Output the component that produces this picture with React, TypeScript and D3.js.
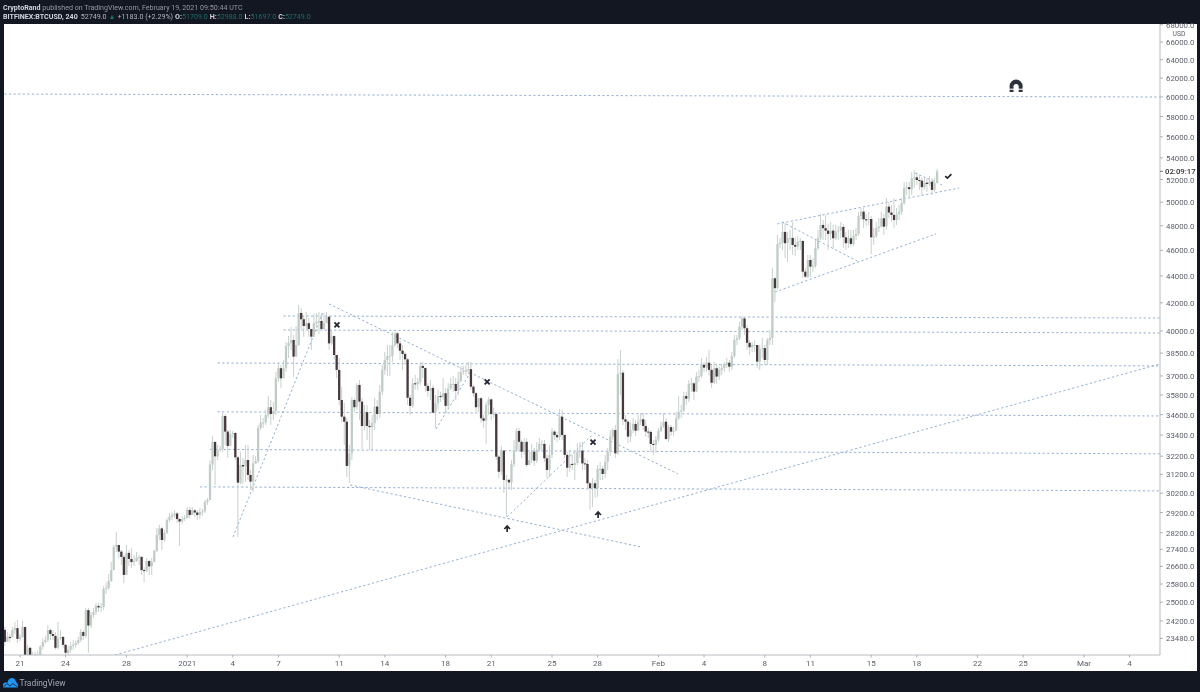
import React from "react";
import * as d3 from "d3";

// 4h candles, starting 20 Dec 2020 00:00; one row = one day (6 bars)
const firstOpen = 23830;
const closes = [
23340,23540,23520,23820,23900,23460,
23540,23950,22620,23100,22780,22820,
22780,22820,23140,23330,23410,23820,
23660,23580,23100,23480,23540,23220,
22900,23020,23180,23220,23295,23410,
23740,23580,24660,24010,24450,24580,
24840,24775,24800,25580,25625,25935,
26430,27510,27605,27290,27040,26210,
27230,26945,26800,26850,27015,27040,
26430,26400,26850,26600,26800,27325,
28090,28410,27844,28190,28826,28980,
29080,29155,28875,28750,28875,28925,
29335,29080,29310,29205,29080,29230,
29260,29740,29843,31740,33000,32190,
32550,32600,34520,33600,32775,33460,
33520,32135,30755,31710,31630,31985,
31170,30810,31800,31930,33810,34120,
34140,34580,35050,34640,34820,36850,
37500,36850,37520,38970,39175,39380,
38260,39044,41270,40820,40350,40540,
40140,39610,40540,40630,40700,40140,
40540,41000,39150,39650,38370,37390,
35490,34480,34180,31660,32360,35490,
35050,36430,35390,33930,34750,33930,
33860,34110,35090,34640,36010,37390,
38040,38300,38300,39040,39840,39150,
38660,38440,38080,35630,35130,36530,
36490,36620,37650,37520,36370,36050,
36240,34720,35290,35740,35670,35910,
35130,36200,36490,36490,36050,36640,
37260,37330,37390,37440,36320,35910,
35050,35600,34380,34240,35190,35530,
34640,34640,32170,31340,32510,30900,
30910,30770,31750,32550,33640,33010,
32450,33010,31710,31985,32450,31950,
32550,32890,32890,32080,31440,32270,
33600,33400,33270,34480,33400,32270,
31560,31770,31710,31820,32450,32510,
31800,31770,30720,30460,30720,30460,
31500,31500,31220,31890,32450,33310,
33690,32360,37130,37210,34320,34180,
33310,33690,34050,33650,34180,34320,
33930,33600,33580,32890,32830,33150,
33640,33890,34180,33170,33860,33600,
33640,34380,34780,34840,35740,35570,
36490,36530,36010,36960,37000,37720,
37540,37860,37390,36570,37500,36960,
37390,37520,37720,37860,37600,38300,
39380,39490,40300,40880,40190,39190,
38890,39040,39040,37930,38780,38830,
38040,39380,39520,43820,43080,46510,
46610,47490,46570,46970,47000,46430,
46295,46690,46750,44330,43950,45235,
44720,44770,46170,46970,48070,47800,
47600,47330,47600,46970,47520,47600,
47905,47050,46570,46970,46510,47160,
47330,48830,49190,48540,48482,48565,
47050,47160,47800,47930,48625,47930,
49620,49110,48910,48482,48970,49190,
49935,51230,51320,51140,52110,52200,
51960,51900,51320,51720,51610,51810,
51080,51709,52749,
];
const highs = [
23950,23740,23660,23950,24160,24240,
23660,24200,23950,23220,23140,22940,
22940,22980,23220,23490,23580,24030,
23900,23820,23740,24160,23820,23580,
23260,23180,23330,23410,23410,23540,
23860,23820,24750,24750,24580,24750,
24970,24970,24970,25710,25850,26260,
26800,27605,28240,27605,27370,27130,
27605,27370,27465,27130,27275,27130,
27085,26570,26990,26900,26990,27370,
28435,28585,28485,28340,28925,29180,
29230,29330,29230,28925,29030,29080,
29490,29490,29490,29385,29335,29440,
29385,29843,29950,31985,33350,33060,
32830,32775,34760,34640,33690,33690,
33630,33570,32210,32440,32100,32830,
32830,31440,32270,32210,33990,34580,
34400,34890,35740,35490,35370,37260,
37910,37715,38040,39245,39655,40280,
39730,40350,41850,41630,41050,41340,
40910,40070,41200,41270,41340,41200,
41270,41340,41050,40070,39730,38370,
38170,36310,35310,34400,32830,35680,
35610,36550,36740,35610,35190,35190,
34280,34580,35610,35490,36430,37720,
38570,39040,39040,39930,39930,39930,
39380,39040,38570,38170,35800,36870,
37070,36870,37910,37910,37520,36550,
36740,36430,35800,36120,36000,36870,
36240,36550,36870,37000,36870,37260,
37650,37650,37720,37910,37910,36430,
35990,35610,35680,34580,35370,35680,
35610,35010,34770,32270,32780,32550,
31170,30900,31985,33110,33810,33810,
33110,33230,33230,32440,32890,32660,
33000,33230,33110,33110,32270,32830,
33810,33690,33570,34950,34890,33460,
32440,32550,32270,32550,32940,33000,
33000,32100,31985,30790,31000,30896,
31710,31880,31660,32270,32660,33690,
33810,33990,38100,38700,37390,34580,
34280,34160,34400,34280,34580,34700,
34700,34280,33810,33690,33110,33350,
33810,34160,34700,34400,33990,33990,
33870,34770,35740,35190,36000,36000,
36740,36870,36620,37260,37390,38170,
37910,38230,38700,37720,37910,37780,
37650,37780,37910,38170,38040,38570,
39730,39730,40630,41050,40910,40420,
39380,39240,39380,39040,39040,39520,
39040,39520,40070,44630,43930,47240,
46995,48150,48235,47490,47655,48300,
46995,47160,46995,46830,44620,45630,
45630,45395,46830,47655,48995,48482,
48895,48150,48317,48070,48070,47985,
48317,48150,47490,47655,47655,47655,
47820,49170,49510,49510,48995,49170,
48830,47820,48317,48650,49170,48995,
50370,50020,49765,50370,49510,49765,
50370,51790,51790,51790,52670,52850,
52680,52410,52140,52140,52140,52320,
52140,52140,52988,
];
const lows = [
23180,23370,23330,23580,23660,23295,
23370,23490,22300,22620,22420,22460,
22540,22620,22780,23020,23260,23330,
23410,23410,23020,23020,23410,23100,
22740,22780,22900,23020,23100,23220,
23330,23410,23490,22900,23900,24320,
24450,24580,24580,24660,25360,25540,
25890,26430,27275,26990,26665,25840,
26665,26620,26525,26620,26800,26665,
26210,25890,26340,26210,26210,26990,
27275,27844,27370,27750,28140,28730,
28826,28925,28680,27560,28630,28780,
29030,28925,29130,28980,28826,28875,
29030,29180,29590,29843,31430,30630,
31985,32440,32440,32830,32100,32775,
33230,31985,27990,30680,30680,30790,
30896,30370,30270,31770,31820,33690,
33810,33990,34400,33990,34280,34580,
36620,36240,37000,37260,38170,38700,
36940,38440,38970,40070,39590,40070,
39590,38700,39930,40280,39790,40000,
40070,40630,38700,39040,38040,36870,
35190,34160,32830,31060,30740,31985,
34770,34890,34280,32600,33690,33110,
32550,32550,33690,34280,34400,35800,
37070,37000,37000,37910,38910,38840,
38040,37390,37720,35190,34580,35010,
36120,36120,36430,36870,36000,35680,
35490,34700,33810,34890,35370,35490,
34700,34890,36120,36000,35490,35800,
36740,37070,37000,37130,36120,35680,
34770,34770,34100,33810,32890,34580,
34280,34400,31985,31000,31170,30210,
28980,30370,30370,31600,32440,32550,
32100,32270,31600,31710,31820,31660,
31820,32440,32550,31870,31060,31060,
32100,33110,33000,33110,33110,32100,
31060,31330,31440,30896,31710,32100,
31440,31440,30370,29340,29490,29950,
30000,30896,30896,31000,31440,32210,
33110,32100,32270,35800,33990,33690,
32940,33000,33520,33350,33810,33990,
33690,33290,33230,32440,32270,32380,
33000,33570,33810,33110,33000,33350,
33350,33990,34280,34400,34770,35190,
35370,36000,35490,36000,36620,36870,
37260,37260,37000,36240,36490,36490,
36740,37070,37260,37520,37260,37390,
38170,39040,39380,40070,39730,38700,
38370,38570,38570,37520,37390,38170,
37720,37720,39040,39040,42060,42940,
46190,46030,45395,45080,46030,45630,
45550,46030,46030,43850,43850,43850,
43920,44310,44620,46030,46830,46830,
46830,46030,46830,46110,46830,46830,
46995,46190,46030,46190,46270,46350,
46830,47160,48482,47820,47985,48070,
45710,46430,46995,47490,47820,47240,
47655,48650,48317,47820,48070,48482,
48895,49765,50630,50370,50630,51260,
51520,51080,50630,51080,50900,51430,
50630,50900,51697,
];
const firstBar = -6; // bar 0 = 21 Dec 00:00

const priceTicks = [68000,66000,64000,62000,60000,58000,56000,54000,52000,50000,48000,46000,44000,42000,40000,38500,37000,35800,34600,33400,32200,31200,30200,29200,28200,27400,26600,25800,25000,24200,23480];
const timeLabels = ["21","24","28","2021","4","7","11","14","18","21","25","28","Feb","4","8","11","15","18","22","25","Mar","4"];
const timeDays = [0,3,7,11,14,17,21,24,28,31,35,38,42,45,49,52,56,59,63,66,70,73];

// drawn lines: [bar, price, bar, price]
const trendLines = [
  [-8,60310,450,60000],
  [104,41050,450,40910],
  [104,40070,450,39860],
  [78,37840,450,37650],
  [78,34770,450,34520],
  [75,32580,450,32330],
  [71,30530,450,30320],
  [37.5,22815,450,37780],
  [84.1,27990,119.6,41340],
  [122,41920,259.8,31220],
  [130.3,30630,245.2,27510],
  [192.3,28980,225.8,33400],
  [164.2,33750,178.4,37390],
  [298.9,48150,370.7,51250],
  [298,42790,361.6,47330],
  [300.8,48317,330.4,45160],
  [353.3,52590,364,51520],
];
const crossMarks = [[125.1,40420],[184.4,36620],[226.2,32990]];
const arrowMarks = [[192.3,28380],[228.2,29080]];
const checkMark = [366.4,52320];
const magnetMark = [393.2,61150];

const W = 1200, H = 692;
const plotL = 4, plotT = 24, plotR = 1160, plotB = 655, frameR = 1197, frameB = 671;
const x = d3.scaleLinear().domain([0, 73 * 6]).range([20, 20 + 15.2 * 73]);
const y = d3.scaleLog().domain([60000, 22617]).range([97, 660]);
const fmt = (v: number) => v.toFixed(1);
const font = "Roboto,'Liberation Sans',sans-serif";
const teal = "#1f6b68";

const candles = closes.map((c, i) => ({
  bar: firstBar + i,
  o: i === 0 ? firstOpen : closes[i - 1],
  c, h: highs[i], l: lows[i],
}));

export default function App() {
  const line = d3.line<[number, number]>().x(d => x(d[0])).y(d => y(d[1]));
  return (
    <svg width={W} height={H} viewBox={`0 0 ${W} ${H}`} style={{ position: "absolute", left: 0, top: 0, display: "block" }}>
      <defs>
        <clipPath id="plot"><rect x={plotL} y={plotT} width={plotR - plotL} height={plotB - plotT} /></clipPath>
        <filter id="soft" x="0" y="0" width="1" height="1"><feGaussianBlur stdDeviation="0.45" /></filter>
      </defs>
      <rect width={W} height={H} fill="#131722" />
      <rect x={plotL} y={plotT} width={frameR - plotL} height={frameB - plotT} fill="#fff" />

      <g clipPath="url(#plot)" filter="url(#soft)">
        {trendLines.map((t, i) => (
          <path key={i} d={line([[t[0], t[1]], [t[2], t[3]]])!} fill="none" stroke="#86a5cf" strokeWidth={0.9} strokeDasharray="2.2 2.4" />
        ))}
        {candles.map(d => (
          <line key={`w${d.bar}`} x1={x(d.bar)} x2={x(d.bar)} y1={y(d.h)} y2={y(d.l)} stroke="#c8d1cc" strokeWidth={1} />
        ))}
        {candles.map(d => {
          const top = y(Math.max(d.o, d.c)), bot = y(Math.min(d.o, d.c));
          return (
            <rect key={`b${d.bar}`} x={x(d.bar) - 1.15} width={2.3} y={top} height={Math.max(bot - top, 1)}
              fill={d.c >= d.o ? "#bfcdc5" : "#46373e"} />
          );
        })}
        {crossMarks.map((m, i) => (
          <path key={i} transform={`translate(${x(m[0])},${y(m[1])})`} d="M-2.5,-2.5L2.5,2.5M-2.5,2.5L2.5,-2.5" stroke="#23262f" strokeWidth={1.8} fill="none" />
        ))}
        {arrowMarks.map((m, i) => (
          <path key={i} transform={`translate(${x(m[0])},${y(m[1])})`} d="M0,3L0,-2.5M-2.8,0L0,-3L2.8,0" stroke="#23262f" strokeWidth={1.7} fill="none" />
        ))}
        <path transform={`translate(${x(checkMark[0])},${y(checkMark[1])})`} d="M-3,0L-0.8,2L3.2,-1.8" stroke="#23262f" strokeWidth={1.7} fill="none" />
        <path transform={`translate(${x(magnetMark[0])},${y(magnetMark[1])})`} d="M-6.5,6L-6.5,0A6.5,6.5 0 0 1 6.5,0L6.5,6L2.6,6L2.6,0.5A2.6,2.6 0 0 0 -2.6,0.5L-2.6,6Z" fill="#2d303a" />
        <rect x={x(magnetMark[0]) - 7} y={y(magnetMark[1]) + 2.6} width={14} height={1.1} fill="#fff" />
      </g>

      {/* price axis */}
      <line x1={plotR} x2={plotR} y1={plotT} y2={plotB} stroke="#b7bbc0" />
      {priceTicks.map(p => (
        <g key={p}>
          <line x1={plotR} x2={plotR + 3} y1={y(p)} y2={y(p)} stroke="#9aa0a6" strokeWidth={0.8} />
          <text x={plotR + 6} y={y(p) + 3} fontFamily={font} fontSize={7.8} fill="#5d606b">{fmt(p)}</text>
        </g>
      ))}
      <rect x={1170} y={29} width={18} height={8} fill="#fff" />
      <text x={1179} y={36} textAnchor="middle" fontFamily={font} fontSize={6.8} fill="#5d606b">USD</text>
      <line x1={plotR} x2={plotR + 3} y1={y(52749)} y2={y(52749)} stroke="#50535e" strokeWidth={0.8} />
      <text x={plotR + 5} y={y(52749) + 2.5} fontFamily={font} fontSize={7.8} fontWeight={500} fill="#333">02:09:17</text>

      {/* time axis */}
      <line x1={plotL} x2={plotR} y1={plotB} y2={plotB} stroke="#b7bbc0" />
      {timeLabels.map((t, i) => (
        <g key={i}>
          <line x1={x(timeDays[i] * 6)} x2={x(timeDays[i] * 6)} y1={plotB} y2={plotB + 2.5} stroke="#9aa0a6" strokeWidth={0.8} />
          <text x={x(timeDays[i] * 6)} y={666} textAnchor="middle" fontFamily={font} fontSize={8} fill="#5d606b">{t}</text>
        </g>
      ))}

      {/* header */}
      <text x={3} y={9.5} fontFamily={font} fontSize={7.1} fill="#9598a1">
        <tspan fontWeight={700} fill="#d1d4dc">CryptoRand</tspan>
        <tspan> published on TradingView.com, February 19, 2021 09:50:44 UTC</tspan>
      </text>
      <text x={3} y={18.5} fontFamily={font} fontSize={7.1} fill="#b2b5be">
        <tspan fontWeight={700} fill="#d1d4dc">BITFINEX:BTCUSD, 240</tspan>
        <tspan dx={3}>52749.0</tspan>
        <tspan dx={2} fill={teal}>▲</tspan>
        <tspan dx={2}>+1183.0 (+2.29%)</tspan>
        <tspan dx={2} fontWeight={700} fill="#d1d4dc">O:</tspan><tspan fill={teal}>51709.0</tspan>
        <tspan dx={2} fontWeight={700} fill="#d1d4dc">H:</tspan><tspan fill={teal}>52988.0</tspan>
        <tspan dx={2} fontWeight={700} fill="#d1d4dc">L:</tspan><tspan fill={teal}>51697.0</tspan>
        <tspan dx={2} fontWeight={700} fill="#d1d4dc">C:</tspan><tspan fill={teal}>52749.0</tspan>
      </text>

      {/* footer logo */}
      <path d="M3,687.5L3,684.5Q3,682.5 5.5,682.5L7.5,682.5Q8.5,678 12,678Q15,678 16,682Q18,683 18,685.5L18,687.5Z" fill="#2196f3" />
      <path d="M3.5,687L7,683.5L10,686L13,683.5L17.5,687" stroke="#131722" strokeWidth={0.8} fill="none" />
      <text x={19.5} y={685.5} fontFamily={font} fontSize={8.4} fill="#a5a8b1">TradingView</text>
    </svg>
  );
}
